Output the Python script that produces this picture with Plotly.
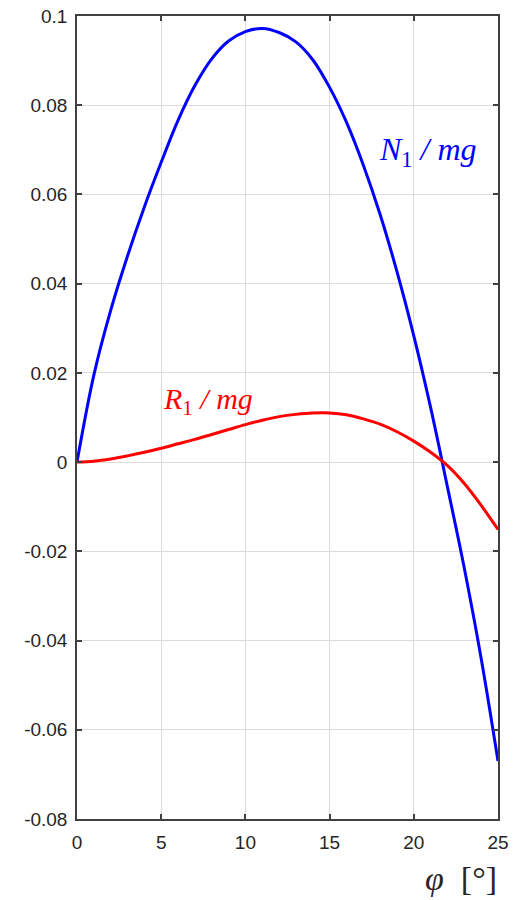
import plotly.graph_objects as go

# ---- data ----
phi_deg = list(range(0, 26))
n1_over_mg = [0.0, 0.0195, 0.0340, 0.0462, 0.0572, 0.0672, 0.0766, 0.0844, 0.0904, 0.0944,
              0.0965, 0.0972, 0.0963, 0.0942, 0.0902, 0.0840, 0.0762, 0.0666, 0.0555, 0.0427,
              0.0283, 0.0122, -0.0056, -0.0238, -0.0440, -0.0670]
r1_over_mg = [0.0, 0.0002, 0.0007, 0.0014, 0.0022, 0.0031, 0.0041, 0.0051, 0.0062, 0.0073,
              0.0084, 0.0094, 0.0102, 0.0107, 0.0110, 0.0110, 0.0106, 0.0097, 0.0085, 0.0068,
              0.0047, 0.0022, -0.0008, -0.0048, -0.0097, -0.0151]

x_tickvals = [0, 5, 10, 15, 20, 25]
x_ticktext = ["0", "5", "10", "15", "20", "25"]
y_tickvals = [0.1, 0.08, 0.06, 0.04, 0.02, 0, -0.02, -0.04, -0.06, -0.08]
y_ticktext = ["0.1", "0.08", "0.06", "0.04", "0.02", "0", "-0.02", "-0.04", "-0.06", "-0.08"]

label_n1 = "<i>N</i><sub>1</sub><i> / mg</i>"
label_r1 = "<i>R</i><sub>1</sub><i> / mg</i>"
x_title = "<i>φ</i>  [°]"

axis_col = "#404040"
grid_col = "#dcdcdc"
serif = "Liberation Serif, Times New Roman, serif"
sans = "Liberation Sans, Arial, sans-serif"

fig = go.Figure()
fig.add_trace(go.Scatter(x=phi_deg, y=n1_over_mg, mode="lines",
                         line=dict(color="#0000ff", width=3, shape="spline", smoothing=1.0),
                         showlegend=False, hoverinfo="x+y"))
fig.add_trace(go.Scatter(x=phi_deg, y=r1_over_mg, mode="lines",
                         line=dict(color="#ff0000", width=3, shape="spline", smoothing=1.0),
                         showlegend=False, hoverinfo="x+y"))

common = dict(showline=True, linecolor=axis_col, linewidth=1.5, mirror="ticks",
              ticks="inside", ticklen=5, tickwidth=1.5, tickcolor=axis_col,
              showgrid=True, gridcolor=grid_col, gridwidth=1, zeroline=False,
              ticklabeloverflow="allow", automargin=False,
              tickfont=dict(family=sans, size=19, color="#262626"))

fig.update_xaxes(range=[0, 25], tickvals=x_tickvals, ticktext=x_ticktext,
                 ticklabelstandoff=5, **common)
fig.update_yaxes(range=[-0.08, 0.1], tickvals=y_tickvals, ticktext=y_ticktext,
                 ticklabelstandoff=4, **common)

fig.add_annotation(x=20.83, y=0.0696, xref="x", yref="y", text=label_n1, showarrow=False,
                   xanchor="center", yanchor="middle",
                   font=dict(family=serif, size=32, color="#0000ff"))
fig.add_annotation(x=7.8, y=0.0138, xref="x", yref="y", text=label_r1, showarrow=False,
                   xanchor="center", yanchor="middle",
                   font=dict(family=serif, size=30, color="#ff0000"))
fig.add_annotation(x=0.912, y=-0.074, xref="paper", yref="paper", text=x_title, showarrow=False,
                   xanchor="center", yanchor="middle",
                   font=dict(family=serif, size=34, color="#262626"))

fig.update_layout(width=520, height=890, margin=dict(l=69, r=30, t=8, b=79, autoexpand=False),
                  plot_bgcolor="white", paper_bgcolor="white")

fig.write_html("out.html")
